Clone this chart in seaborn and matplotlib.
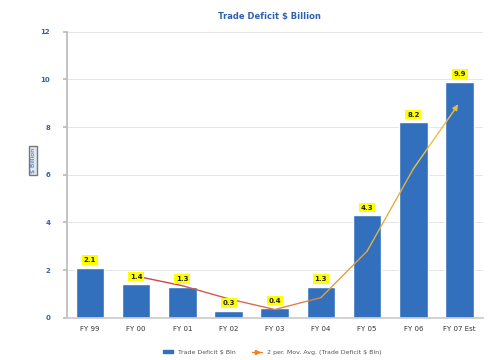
import matplotlib
matplotlib.use("Agg")
import matplotlib.pyplot as plt
import seaborn as sns
import pandas as pd
from matplotlib.colors import LinearSegmentedColormap

categories = ["FY 99", "FY 00", "FY 01", "FY 02", "FY 03", "FY 04", "FY 05", "FY 06", "FY 07 Est"]
deficit = [2.1, 1.4, 1.3, 0.3, 0.4, 1.3, 4.3, 8.2, 9.9]
bar_labels = ["2.1", "1.4", "1.3", "0.3", "0.4", "1.3", "4.3", "8.2", "9.9"]
mov_avg_cats = ["FY 00", "FY 01", "FY 02", "FY 03", "FY 04", "FY 05", "FY 06", "FY 07 Est"]
mov_avg = [1.75, 1.35, 0.8, 0.35, 0.85, 2.8, 6.25, 9.05]
yticks = [0, 2, 4, 6, 8, 10, 12]

sns.set_theme(style="white")
plt.rcParams['font.family'] = ['DejaVu Sans']

df = pd.DataFrame({"cat": categories, "val": deficit})
fig = plt.figure(figsize=(4.95, 3.6), dpi=100)
ax = fig.add_axes([0.135, 0.117, 0.84, 0.795])

sns.barplot(data=df, x="cat", y="val", ax=ax, color="#3270BE", saturation=1,
            width=0.62, order=categories, zorder=2)

pos = {c: i for i, c in enumerate(categories)}
xs = [pos[c] for c in mov_avg_cats]
ys = list(mov_avg)
xs_end = xs[:-1] + [xs[-1] - 0.08]
ys_end = ys[:-1] + [ys[-1] - 0.25]
cmap = LinearSegmentedColormap.from_list("ma", ["#C8484A", "#D86A50", "#E0A040", "#E8C040"])
n = len(xs_end) - 1
for k in range(n):
    ax.plot(xs_end[k:k + 2], ys_end[k:k + 2], color=cmap(k / max(n - 1, 1)), lw=1.0,
            zorder=3, solid_capstyle="round")
ax.annotate("", xy=(xs[-1], ys[-1]), xytext=(xs[-1] - 0.1, ys[-1] - 0.3),
            arrowprops=dict(arrowstyle="-|>", color="#E8C040", lw=1.0, mutation_scale=8), zorder=4)

for i, (v, t) in enumerate(zip(deficit, bar_labels)):
    ax.text(i, v + 0.2, t, ha="center", va="bottom", fontsize=5, fontweight="bold",
            color="#222222", bbox=dict(boxstyle="square,pad=0.25", fc="#FFFF00", ec="none"), zorder=5)

ax.set_ylim(0, 12)
ax.set_xlim(-0.5, 8.5)
ax.set_yticks(yticks)
ax.set_yticklabels([str(t) for t in yticks], fontsize=5, color="#3060B0", fontweight="bold")
ax.tick_params(axis="x", labelsize=5, colors="#333333", length=0, pad=6)
ax.tick_params(axis="y", length=3, color="#BBBBBB", pad=9, left=True)
ax.grid(axis="y", color="#E2E2E2", lw=0.6, zorder=0)
for s in ["top", "right"]:
    ax.spines[s].set_visible(False)
ax.spines["left"].set_color("#BBBBBB")
ax.spines["bottom"].set_color("#CCCCCC")
ax.set_xlabel("")
ax.set_ylabel("$ Billion", fontsize=4.5, color="#3060B0",
              bbox=dict(boxstyle="square,pad=0.25", fc="#E0E8F0", ec="#777777", lw=1))
ax.yaxis.set_label_coords(-0.075, 0.55)

fig.text(0.545, 0.955, "Trade Deficit $ Billion", ha="center", va="center",
         fontsize=6, fontweight="bold", color="#3060B0")

from matplotlib.patches import Patch
from matplotlib.lines import Line2D
handles = [Patch(color="#3270BE", label="Trade Deficit $ Bln"),
           Line2D([0], [0], color="#F08020", lw=1, marker=">", markersize=3,
                  label="2 per. Mov. Avg. (Trade Deficit $ Bln)")]
fig.legend(handles=handles, loc="center", bbox_to_anchor=(0.55, 0.022), ncol=2,
           frameon=False, fontsize=4.5, handlelength=1.6, handleheight=0.5,
           columnspacing=2.5, labelcolor="#555555")

fig.savefig("out.png", dpi=100)
